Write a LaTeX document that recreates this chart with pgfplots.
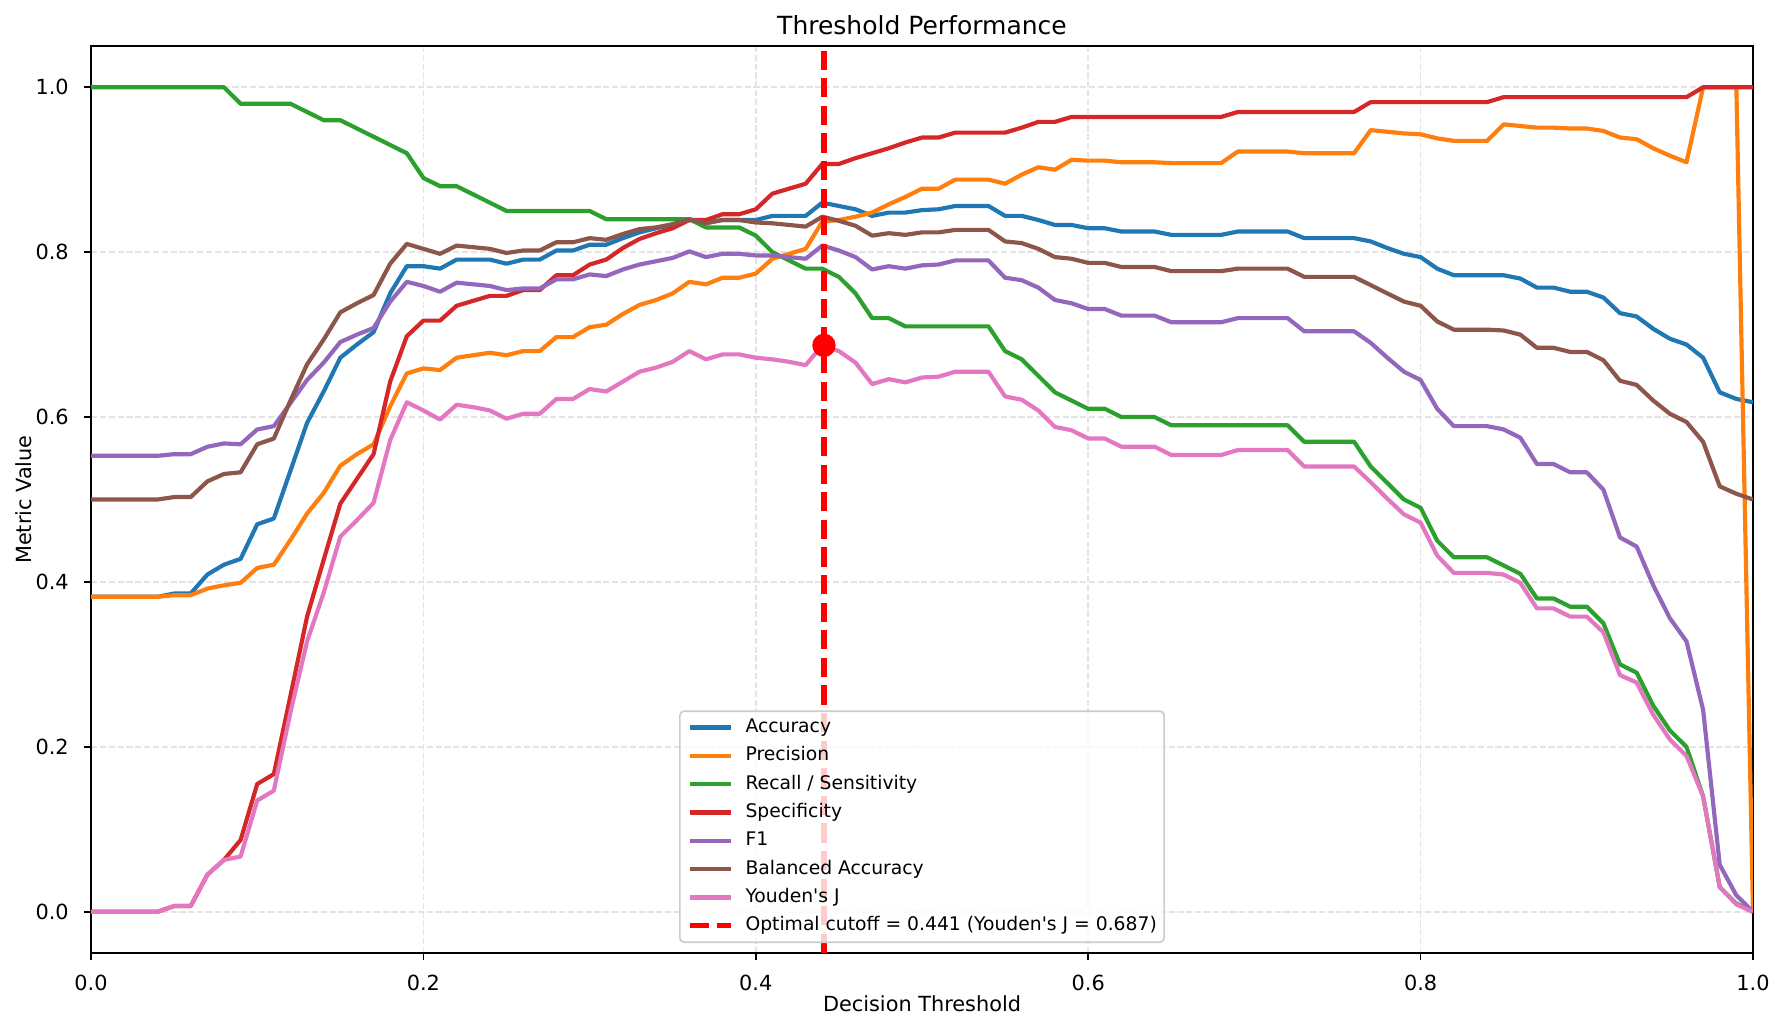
\documentclass[border=0pt]{standalone}
\usepackage{pgfplots}
\usepackage{pgfplotstable}
\pgfplotsset{compat=1.18}
\usepackage{fontspec}
\setmainfont{DejaVu Sans}

\definecolor{tabblue}{HTML}{1F77B4}
\definecolor{taborange}{HTML}{FF7F0E}
\definecolor{tabgreen}{HTML}{2CA02C}
\definecolor{tabred}{HTML}{D62728}
\definecolor{tabpurple}{HTML}{9467BD}
\definecolor{tabbrown}{HTML}{8C564B}
\definecolor{tabpink}{HTML}{E377C2}
\definecolor{gridgray}{HTML}{E4E4E4}
\definecolor{framegray}{HTML}{CCCCCC}

% threshold sweep: accuracy, precision, recall, specificity, F1, balanced accuracy, Youden's J
\pgfplotstableread{
t acc prec rec spec f1 bal yj
0.00 0.382 0.382 1.00 0.000 0.553 0.500 0.000
0.01 0.382 0.382 1.00 0.000 0.553 0.500 0.000
0.02 0.382 0.382 1.00 0.000 0.553 0.500 0.000
0.03 0.382 0.382 1.00 0.000 0.553 0.500 0.000
0.04 0.382 0.382 1.00 0.000 0.553 0.500 0.000
0.05 0.386 0.384 1.00 0.007 0.555 0.503 0.007
0.06 0.386 0.384 1.00 0.007 0.555 0.503 0.007
0.07 0.409 0.392 1.00 0.045 0.564 0.522 0.045
0.08 0.421 0.396 1.00 0.063 0.568 0.531 0.063
0.09 0.428 0.399 0.98 0.087 0.567 0.533 0.067
0.10 0.470 0.417 0.98 0.155 0.585 0.567 0.135
0.11 0.477 0.421 0.98 0.167 0.589 0.574 0.147
0.12 0.535 0.451 0.98 0.262 0.617 0.620 0.242
0.13 0.593 0.483 0.97 0.358 0.645 0.664 0.328
0.14 0.631 0.508 0.96 0.427 0.666 0.694 0.387
0.15 0.672 0.541 0.96 0.495 0.691 0.727 0.455
0.16 0.688 0.555 0.95 0.525 0.700 0.738 0.475
0.17 0.703 0.567 0.94 0.555 0.708 0.748 0.496
0.18 0.750 0.613 0.93 0.643 0.740 0.786 0.572
0.19 0.783 0.653 0.92 0.698 0.764 0.810 0.618
0.20 0.783 0.659 0.89 0.717 0.759 0.804 0.608
0.21 0.780 0.657 0.88 0.717 0.752 0.798 0.597
0.22 0.791 0.672 0.88 0.735 0.763 0.808 0.615
0.23 0.791 0.675 0.87 0.741 0.761 0.806 0.612
0.24 0.791 0.678 0.86 0.747 0.759 0.804 0.608
0.25 0.786 0.675 0.85 0.747 0.754 0.799 0.598
0.26 0.791 0.680 0.85 0.754 0.756 0.802 0.604
0.27 0.791 0.680 0.85 0.754 0.756 0.802 0.604
0.28 0.802 0.697 0.85 0.772 0.767 0.812 0.622
0.29 0.802 0.697 0.85 0.772 0.767 0.812 0.622
0.30 0.809 0.709 0.85 0.785 0.773 0.817 0.634
0.31 0.809 0.712 0.84 0.791 0.771 0.815 0.631
0.32 0.817 0.725 0.84 0.805 0.779 0.822 0.643
0.33 0.824 0.736 0.84 0.816 0.785 0.828 0.655
0.34 0.829 0.742 0.84 0.823 0.789 0.830 0.660
0.35 0.833 0.750 0.84 0.829 0.793 0.834 0.667
0.36 0.839 0.764 0.84 0.839 0.801 0.840 0.680
0.37 0.836 0.761 0.83 0.839 0.794 0.835 0.670
0.38 0.839 0.769 0.83 0.846 0.798 0.839 0.676
0.39 0.839 0.769 0.83 0.846 0.798 0.839 0.676
0.40 0.839 0.774 0.82 0.852 0.796 0.836 0.672
0.41 0.844 0.792 0.80 0.871 0.796 0.835 0.670
0.42 0.844 0.798 0.79 0.877 0.794 0.833 0.667
0.43 0.844 0.804 0.78 0.883 0.792 0.831 0.663
0.44 0.860 0.837 0.78 0.907 0.808 0.843 0.687
0.45 0.856 0.839 0.77 0.907 0.802 0.838 0.680
0.46 0.852 0.843 0.75 0.914 0.794 0.832 0.666
0.47 0.844 0.848 0.72 0.920 0.779 0.820 0.640
0.48 0.848 0.858 0.72 0.926 0.783 0.823 0.646
0.49 0.848 0.867 0.71 0.933 0.780 0.821 0.642
0.50 0.851 0.877 0.71 0.939 0.784 0.824 0.648
0.51 0.852 0.877 0.71 0.939 0.785 0.824 0.649
0.52 0.856 0.888 0.71 0.945 0.790 0.827 0.655
0.53 0.856 0.888 0.71 0.945 0.790 0.827 0.655
0.54 0.856 0.888 0.71 0.945 0.790 0.827 0.655
0.55 0.844 0.883 0.68 0.945 0.769 0.813 0.625
0.56 0.844 0.894 0.67 0.951 0.766 0.811 0.621
0.57 0.839 0.903 0.65 0.958 0.757 0.804 0.608
0.58 0.833 0.900 0.63 0.958 0.742 0.794 0.588
0.59 0.833 0.912 0.62 0.964 0.738 0.792 0.584
0.60 0.829 0.911 0.61 0.964 0.731 0.787 0.574
0.61 0.829 0.911 0.61 0.964 0.731 0.787 0.574
0.62 0.825 0.909 0.60 0.964 0.723 0.782 0.564
0.63 0.825 0.909 0.60 0.964 0.723 0.782 0.564
0.64 0.825 0.909 0.60 0.964 0.723 0.782 0.564
0.65 0.821 0.908 0.59 0.964 0.715 0.777 0.554
0.66 0.821 0.908 0.59 0.964 0.715 0.777 0.554
0.67 0.821 0.908 0.59 0.964 0.715 0.777 0.554
0.68 0.821 0.908 0.59 0.964 0.715 0.777 0.554
0.69 0.825 0.922 0.59 0.970 0.720 0.780 0.560
0.70 0.825 0.922 0.59 0.970 0.720 0.780 0.560
0.71 0.825 0.922 0.59 0.970 0.720 0.780 0.560
0.72 0.825 0.922 0.59 0.970 0.720 0.780 0.560
0.73 0.817 0.920 0.57 0.970 0.704 0.770 0.540
0.74 0.817 0.920 0.57 0.970 0.704 0.770 0.540
0.75 0.817 0.920 0.57 0.970 0.704 0.770 0.540
0.76 0.817 0.920 0.57 0.970 0.704 0.770 0.540
0.77 0.813 0.948 0.54 0.982 0.690 0.760 0.521
0.78 0.805 0.946 0.52 0.982 0.672 0.750 0.501
0.79 0.798 0.944 0.50 0.982 0.655 0.740 0.482
0.80 0.794 0.943 0.49 0.982 0.645 0.735 0.472
0.81 0.780 0.938 0.45 0.982 0.610 0.716 0.432
0.82 0.772 0.935 0.43 0.982 0.589 0.706 0.411
0.83 0.772 0.935 0.43 0.982 0.589 0.706 0.411
0.84 0.772 0.935 0.43 0.982 0.589 0.706 0.411
0.85 0.772 0.955 0.42 0.988 0.585 0.705 0.409
0.86 0.768 0.953 0.41 0.988 0.575 0.700 0.399
0.87 0.757 0.951 0.38 0.988 0.543 0.684 0.368
0.88 0.757 0.951 0.38 0.988 0.543 0.684 0.368
0.89 0.752 0.950 0.37 0.988 0.533 0.679 0.358
0.90 0.752 0.950 0.37 0.988 0.533 0.679 0.358
0.91 0.745 0.947 0.35 0.988 0.512 0.669 0.339
0.92 0.726 0.939 0.30 0.988 0.454 0.644 0.287
0.93 0.722 0.937 0.29 0.988 0.443 0.639 0.278
0.94 0.707 0.926 0.25 0.988 0.396 0.620 0.239
0.95 0.695 0.917 0.22 0.988 0.356 0.604 0.209
0.96 0.688 0.909 0.20 0.988 0.328 0.594 0.189
0.97 0.672 1.000 0.14 1.000 0.245 0.570 0.140
0.98 0.630 1.000 0.03 1.000 0.057 0.516 0.030
0.99 0.622 1.000 0.01 1.000 0.020 0.507 0.009
1.00 0.618 0.000 0.00 1.000 0.000 0.500 0.000
}\metrics

\begin{document}
\begin{tikzpicture}
\useasboundingbox (-43.7pt,-37.4pt) rectangle (812.7pt,457.5pt);
\begin{axis}[
  at={(0,0)}, anchor=south west,
  scale only axis, width=797.8pt, height=435.4pt,
  xmin=0, xmax=1, ymin=-0.05, ymax=1.05,
  xtick={0,0.2,0.4,0.6,0.8,1},
  ytick={0,0.2,0.4,0.6,0.8,1},
  xticklabels={0.0,0.2,0.4,0.6,0.8,1.0},
  yticklabels={0.0,0.2,0.4,0.6,0.8,1.0},
  xtick pos=bottom, ytick pos=left,
  tick align=outside,
  major tick length=3.5pt,
  every tick/.style={black, line width=0.8pt},
  axis line style={black, line width=0.8pt},
  ticklabel style={font=\fontsize{10}{12}\selectfont},
  xticklabel style={anchor=north, inner sep=0pt, yshift=-7pt},
  yticklabel style={anchor=east, inner sep=0pt, xshift=-7pt},
  grid=major,
  major grid style={gridgray, line width=0.8pt, dash pattern=on 2.96pt off 1.28pt},
  title={Threshold Performance},
  title style={font=\fontsize{12}{14.4}\selectfont, at={(axis description cs:0.5,0.99885)}, anchor=base, inner sep=0pt},
  xlabel={Decision Threshold},
  ylabel={Metric Value},
  xlabel style={font=\fontsize{10}{12}\selectfont, at={(axis description cs:0.5,-0.0643)}, anchor=base, inner sep=0pt},
  ylabel style={font=\fontsize{10}{12}\selectfont, at={(axis description cs:-0.0361,0.5)}, anchor=base, inner sep=0pt},
  no markers,
  every axis plot/.append style={line width=2pt, line join=round},
  legend cell align=left,
  legend image code/.code={\draw[#1] (0pt,0pt) -- (20pt,0pt);},
  legend style={
    at={(axis description cs:0.5,0)}, anchor=south, yshift=4.8pt,
    draw=framegray, line width=0.8pt, rounded corners=2pt,
    fill=white, fill opacity=0.8, text opacity=1,
    font=\fontsize{9}{11}\selectfont,
    inner xsep=3.5pt, inner ysep=3.3pt, row sep=4.5pt,
    nodes={inner sep=0pt, text height=6.9pt, text depth=2.2pt},
    /tikz/every odd column/.style={column sep=5.5pt},
    /tikz/every even column/.style={column sep=3pt},
  },
  /pgf/number format/assume math mode=true,
]
\addplot[tabblue] table[x=t, y=acc] {\metrics};
\addlegendentry{Accuracy}
\addplot[taborange] table[x=t, y=prec] {\metrics};
\addlegendentry{Precision}
\addplot[tabgreen] table[x=t, y=rec] {\metrics};
\addlegendentry{Recall / Sensitivity}
\addplot[tabred] table[x=t, y=spec] {\metrics};
\addlegendentry{Specificity}
\addplot[tabpurple] table[x=t, y=f1] {\metrics};
\addlegendentry{F1}
\addplot[tabbrown] table[x=t, y=bal] {\metrics};
\addlegendentry{Balanced Accuracy}
\addplot[tabpink] table[x=t, y=yj] {\metrics};
\addlegendentry{Youden\textquotesingle s J}
% optimal cutoff by Youden's J
\addplot[red, line width=2.5pt, dash pattern=on 9.25pt off 4pt, line cap=butt] coordinates {(0.441,-0.05) (0.441,1.05)};
\addlegendentry{Optimal cutoff = 0.441 (Youden\textquotesingle s J = 0.687)}
\addplot[only marks, mark=*, mark size=4.6pt, red, forget plot] coordinates {(0.441,0.687)};
\end{axis}
\end{tikzpicture}
\end{document}
